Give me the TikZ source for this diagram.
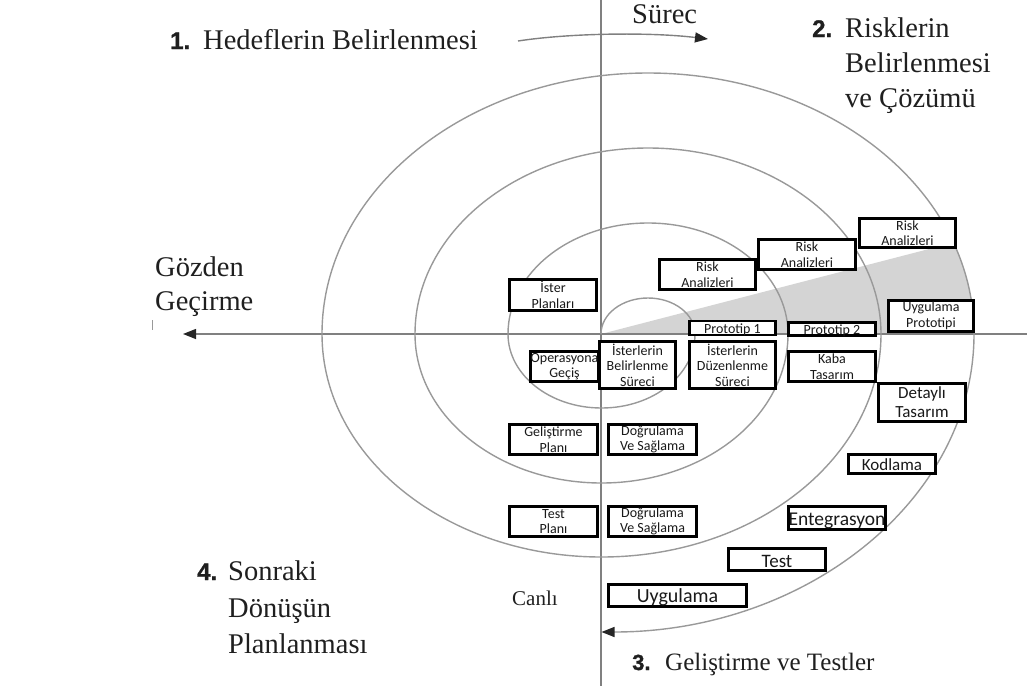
\documentclass[tikz,border=0pt]{standalone}
\usepackage{fontspec}
\setmainfont{Liberation Serif}
\newfontfamily\boxfont{Carlito}
\newfontfamily\numfont[FakeBold=1.2]{Liberation Sans Bold}
\usetikzlibrary{arrows.meta}

\begin{document}
\begin{tikzpicture}[x=1pt,y=-1pt,
  spiral/.style={draw=black!40, line width=1.4pt},
  axisline/.style={draw=black!50, line width=1.4pt},
  tip/.style={-{Triangle[length=13pt,width=10pt,color=black!85]}},
  stage/.style={draw=black, line width=2.6pt, fill=white, inner sep=0pt,
    align=center, text=black!90, font=\boxfont\fontsize{14}{15.5}\selectfont},
  lowtext/.style={text depth=0pt, text height=#1},
  title/.style={anchor=base west, inner sep=0pt, text=black!88,
    font=\fontsize{28.5}{34}\selectfont},
  num/.style={anchor=base west, inner sep=0pt, text=black!88,
    font=\numfont\fontsize{24}{28}\selectfont}
]
\useasboundingbox (0,0) rectangle (1027,686);

% shaded prototype wedge, kept inside the outer upper half-ellipse
\begin{scope}
  \clip (322,334) arc[start angle=180,end angle=360,x radius=326,y radius=261] -- cycle;
  \fill[black!17] (601,334) -- (1010,228) -- (1010,334) -- cycle;
\end{scope}

% axes
\coordinate (hR) at (1027,334);
\coordinate (hL) at (183,334);
\coordinate (vT) at (601,0);
\coordinate (vB) at (601,686);
\draw[axisline,tip] (hR) -- (hL);
\draw[axisline] (vT) -- (vB);
\coordinate (tickA) at (152,320);
\coordinate (tickB) at (152,330);
\draw[black!40, line width=0.8pt] (tickA) -- (tickB);

% process arrow at the top
\coordinate (sA) at (518,41);
\coordinate (sB) at (708,39);
\draw[axisline,tip] (sA) .. controls (570,33) and (650,32) .. (sB);

% spiral: upper halves centred at x=648, lower halves at x=601.5
\coordinate (spStart) at (601,334);
\coordinate (spLast) at (974,334);
\draw[spiral] (spStart)
  arc[start angle=180,end angle=360,x radius=47,y radius=36]
  arc[start angle=0,end angle=180,x radius=93.5,y radius=74]
  arc[start angle=180,end angle=360,x radius=140,y radius=111]
  arc[start angle=0,end angle=180,x radius=186.5,y radius=149]
  arc[start angle=180,end angle=360,x radius=233,y radius=186]
  arc[start angle=0,end angle=180,x radius=279.5,y radius=223]
  arc[start angle=180,end angle=360,x radius=326,y radius=261];
\draw[spiral,tip] (spLast) arc[start angle=0,end angle=90,x radius=372.5,y radius=298];

% stage boxes
\node[stage, minimum width=87, minimum height=31] (isterPl) at (553,295) {İster\\Planları};
\node[stage, minimum width=96, minimum height=30] (risk1) at (707.5,274.5) {Risk\\Analizleri};
\node[stage, minimum width=97, minimum height=30] (risk2) at (807,254.5) {Risk\\Analizleri};
\node[stage, minimum width=96, minimum height=29] (risk3) at (907.5,233) {Risk\\Analizleri};
\node[stage, minimum width=85, minimum height=31] (uygProt) at (931,316) {Uygulama\\Prototipi};
\node[stage, minimum width=68, minimum height=30] (operas) at (564.5,366.5) {Operasyona\\Geçiş};
\node[stage, minimum width=76, minimum height=47] (istBel) at (637.5,365) {İsterlerin\\Belirlenme\\Süreci};
\node[stage, minimum width=86, minimum height=47] (istDuz) at (732.5,365) {İsterlerin\\Düzenlenme\\Süreci};
\node[stage, lowtext=10pt, minimum width=86, minimum height=14] (proto1) at (732.5,328) {Prototip 1};
\node[stage, lowtext=10pt, minimum width=87, minimum height=13] (proto2) at (832,329) {Prototip 2};
\node[stage, minimum width=87, minimum height=30] (kaba) at (832,366.5) {Kaba\\Tasarım};
\node[stage, minimum width=87, minimum height=38, font=\boxfont\fontsize{17}{19}\selectfont] (detay) at (922,402.5) {Detaylı\\Tasarım};
\node[stage, minimum width=88, minimum height=30] (gelPl) at (553.5,439.5) {Geliştirme\\Planı};
\node[stage, minimum width=88, minimum height=30] (dog1) at (652.5,439.5) {Doğrulama\\Ve Sağlama};
\node[stage, minimum width=88, minimum height=30] (testPl) at (553.5,521.5) {Test\\Planı};
\node[stage, minimum width=88, minimum height=30] (dog2) at (652.5,521.5) {Doğrulama\\Ve Sağlama};
\node[stage, lowtext=12pt, minimum width=87, minimum height=19, font=\boxfont\fontsize{17}{19}\selectfont] (kod) at (892,464) {Kodlama};
\node[stage, lowtext=14pt, minimum width=97, minimum height=23, font=\boxfont\fontsize{19.5}{22}\selectfont] (enteg) at (837,518) {Entegrasyon};
\node[stage, lowtext=15pt, minimum width=97, minimum height=22, font=\boxfont\fontsize{19}{22}\selectfont] (test) at (777,559.5) {Test};
\node[stage, lowtext=14pt, minimum width=138, minimum height=22, font=\boxfont\fontsize{20}{22}\selectfont] (uyg) at (677.5,595.5) {Uygulama};

% quadrant titles
\node[num] (n1) at (170,49) {1.};
\node[title] (t1) at (203,49) {Hedeflerin Belirlenmesi};
\node[title] (surec) at (632,23) {Sürec};
\node[num] (n2) at (812,37) {2.};
\node[title] (t2a) at (845,37) {Risklerin};
\node[title] (t2b) at (845,72) {Belirlenmesi};
\node[title] (t2c) at (845,107) {ve Çözümü};
\node[title] (gz1) at (155,276) {Gözden};
\node[title] (gz2) at (155,310) {Geçirme};
\node[num] (n4) at (197,580) {4.};
\node[title] (t4a) at (228,580) {Sonraki};
\node[title] (t4b) at (228,617) {Dönüşün};
\node[title] (t4c) at (228,653) {Planlanması};
\node[title, font=\fontsize{21}{25}\selectfont] (canli) at (512,605) {Canlı};
\node[num, font=\numfont\fontsize{22}{26}\selectfont] (n3) at (632,670) {3.};
\node[title, font=\fontsize{25}{30}\selectfont] (t3) at (665,670) {Geliştirme ve Testler};
\end{tikzpicture}
\end{document}
